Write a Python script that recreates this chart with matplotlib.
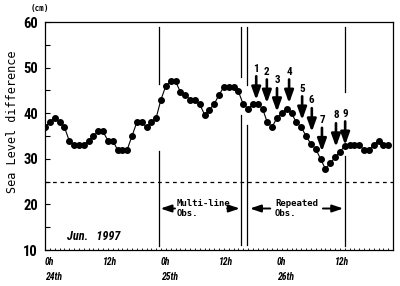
import numpy as np
import matplotlib
matplotlib.use("Agg")
import matplotlib.pyplot as plt
from matplotlib import font_manager as fm

# hourly sea level difference (cm), 24th 0h .. 26th 23h
hours = np.arange(72)
level = [37, 38, 39, 38, 37, 34, 33, 33, 33, 34,
         35, 36, 36, 34, 34, 32, 32, 32, 35, 38,
         38, 37, 38, 39, 43, 46, 47, 47, 44.7, 44,
         43, 43, 42, 39.7, 40.8, 42, 44, 45.8, 45.8, 45.8,
         44.8, 42, 41, 42, 42, 41, 38, 37, 39, 40,
         41, 40, 38, 37, 35, 33.3, 32.2, 30, 27.8, 29,
         30.3, 31.5, 32.8, 33, 33, 33, 32, 32, 33, 34,
         33, 33]

xtick_pos = [0, 12, 24, 36, 48, 60]
xtick_lab = ["0h\n24th", "12h", "0h\n25th", "12h", "0h\n26th", "12h"]

# observation boundary lines: hour, (top segment), (bottom segment)
bound_hours = [23.6, 40.5, 41.7, 62.0]
bound_top = [(46.4, 58.9), (48.0, 58.9), (46.2, 58.9), (44.7, 58.9)]
bound_bot = [(10.9, 31.7), (11.1, 39.6), (11.1, 37.4), (10.9, 30.6)]

# numbered arrows
arrow_num = [1, 2, 3, 4, 5, 6, 7, 8, 9]
arrow_hour = [43.7, 45.9, 48.0, 50.5, 53.2, 55.2, 57.3, 60.2, 62.1]
arrow_tip = [42.9, 42.2, 40.3, 42.2, 38.5, 35.9, 31.6, 32.6, 33.0]

names = {f.name for f in fm.fontManager.ttflist}
narrow = "DejaVu Sans"
for cand in ["Liberation Sans Narrow", "Roboto Condensed", "Roboto"]:
    if cand in names:
        narrow = cand
        break

fig = plt.figure(figsize=(4.0, 2.86), dpi=100)
ax = fig.add_axes([45 / 400, 36 / 286, 348 / 400, 228 / 286])

ax.plot(hours, level, color="k", lw=0.8, marker="o", ms=4.0, mfc="k", mec="k", zorder=3)
ax.axhline(25, color="k", lw=0.9, ls=(0, (3, 3)))

for h, t, b in zip(bound_hours, bound_top, bound_bot):
    ax.plot([h, h], t, color="k", lw=0.9)
    ax.plot([h, h], b, color="k", lw=0.9)

for n, h, tip in zip(arrow_num, arrow_hour, arrow_tip):
    ax.annotate("", xy=(h, tip), xytext=(h, tip + 5.2),
                arrowprops=dict(arrowstyle="-|>,head_width=0.27,head_length=0.75",
                                lw=1.9, color="k", shrinkA=0, shrinkB=0))
    ax.text(h, tip + 5.8, str(n), ha="center", va="bottom", fontsize=8,
            fontweight="bold", family=narrow)

harrow = dict(arrowstyle="-|>,head_width=0.22,head_length=0.65", lw=1.4, color="k",
              shrinkA=0, shrinkB=0)
ax.annotate("", xy=(23.9, 19.1), xytext=(26.9, 19.1), arrowprops=harrow)
ax.annotate("", xy=(40.3, 19.1), xytext=(37.7, 19.1), arrowprops=harrow)
ax.annotate("", xy=(42.4, 19.1), xytext=(46.6, 19.1), arrowprops=harrow)
ax.annotate("", xy=(61.7, 19.1), xytext=(57.5, 19.1), arrowprops=harrow)
ax.text(27.2, 19.1, "Multi-line\nObs.", ha="left", va="center", fontsize=6.5,
        family="DejaVu Sans Mono", fontweight="bold", linespacing=1.05)
ax.text(47.6, 19.1, "Repeated\nObs.", ha="left", va="center", fontsize=6.5,
        family="DejaVu Sans Mono", fontweight="bold", linespacing=1.05)
ax.text(4.5, 12.9, "Jun.   1997", ha="left", va="center", fontsize=8.8,
        fontweight="bold", style="italic", family=narrow)

ax.set_xlim(0, 72)
ax.set_ylim(10, 60)
ax.set_xticks(xtick_pos)
ax.set_xticklabels(xtick_lab, ha="left", fontsize=7, fontweight="bold",
                   style="italic", family=narrow, linespacing=1.6)
ax.set_xticks(np.arange(0, 73, 1), minor=True)
ax.set_yticks(np.arange(10, 61, 10))
ax.set_yticks(np.arange(15, 60, 10), minor=True)
for lab in ax.get_yticklabels():
    lab.set_fontsize(10.5)
    lab.set_fontweight("bold")
    lab.set_family(narrow)
ax.tick_params(axis="y", which="both", direction="in", length=3.5, width=0.8, pad=5)
ax.tick_params(axis="x", which="both", direction="in", length=1.6, width=0.6, pad=5)
for s in ax.spines.values():
    s.set_linewidth(0.9)

fig.text(13 / 400, 1 - 122 / 286, "Sea Level difference", rotation=90, ha="center",
         va="center", fontsize=8.5, family="DejaVu Sans Mono")
fig.text(31 / 400, 1 - 8 / 286, "(cm)", ha="left", va="center", fontsize=5.5,
         fontweight="bold", family="DejaVu Sans Mono")

fig.savefig("out.png", dpi=100)
